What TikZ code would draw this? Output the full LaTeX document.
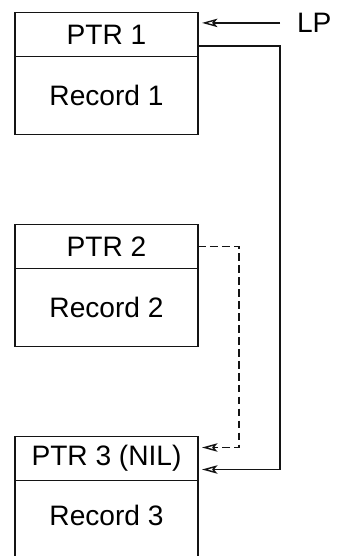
\documentclass[tikz,border=0pt]{standalone}
\usepackage{fontspec}
\setmainfont{Liberation Sans}
\usepackage{tikz}
\usetikzlibrary{
    arrows.meta,
    positioning,
    calc
}
\definecolor{Cline}{RGB}{20, 20, 20}
\tikzset{
    ptrbox/.style={
        rectangle, draw=Cline, line width=1pt, outer sep=0pt,
        minimum width=4.575cm, minimum height=1.1cm,
        align=center, font=\fontsize{20}{23}\selectfont, inner sep=0pt
    },
    recbox/.style={
        rectangle, draw=Cline, line width=1pt, outer sep=0pt,
        minimum width=4.575cm, minimum height=1.95cm,
        align=center, font=\fontsize{20}{23}\selectfont, inner sep=0pt
    },
    plink/.style={-{Stealth[open, length=11pt, width=6pt, inset=2.5pt]}, line width=1pt, Cline, shorten >=0.1cm},
    dlink/.style={plink, dash pattern=on 5.5pt off 3pt},
}
\begin{document}
\begin{tikzpicture}
    \useasboundingbox (0,0) rectangle (8.525,-13.9);

    \node [ptrbox] (ptr1) at (2.6625,-0.8625) {PTR 1};
    \node [recbox, below=0pt of ptr1] (rec1) {Record 1};
    \node [ptrbox, below=2.25cm of rec1] (ptr2) {PTR 2};
    \node [recbox, below=0pt of ptr2] (rec2) {Record 2};
    \node [ptrbox, below=2.25cm of rec2] (ptr3) {PTR 3 (NIL)};
    \node [recbox, below=0pt of ptr3, minimum height=2.1cm, text depth=0.35cm] (rec3) {Record 3};

    \node [font=\fontsize{20}{23}\selectfont, inner ysep=0pt, inner xsep=0.42cm, anchor=west]
        (lp) at ([xshift=2.05cm, yshift=0.29cm]ptr1.east) {LP};

    \draw [plink] (lp.west) -- (lp.west -| ptr1.east);
    \draw [plink] ([yshift=-0.29cm]ptr1.east) -- ++(2.05cm,0)
        |- ([yshift=-0.275cm]ptr3.east);
    \draw [dlink] (ptr2.east) -- ++(1.025cm,0)
        |- ([yshift=0.275cm]ptr3.east);

\end{tikzpicture}
\end{document}
